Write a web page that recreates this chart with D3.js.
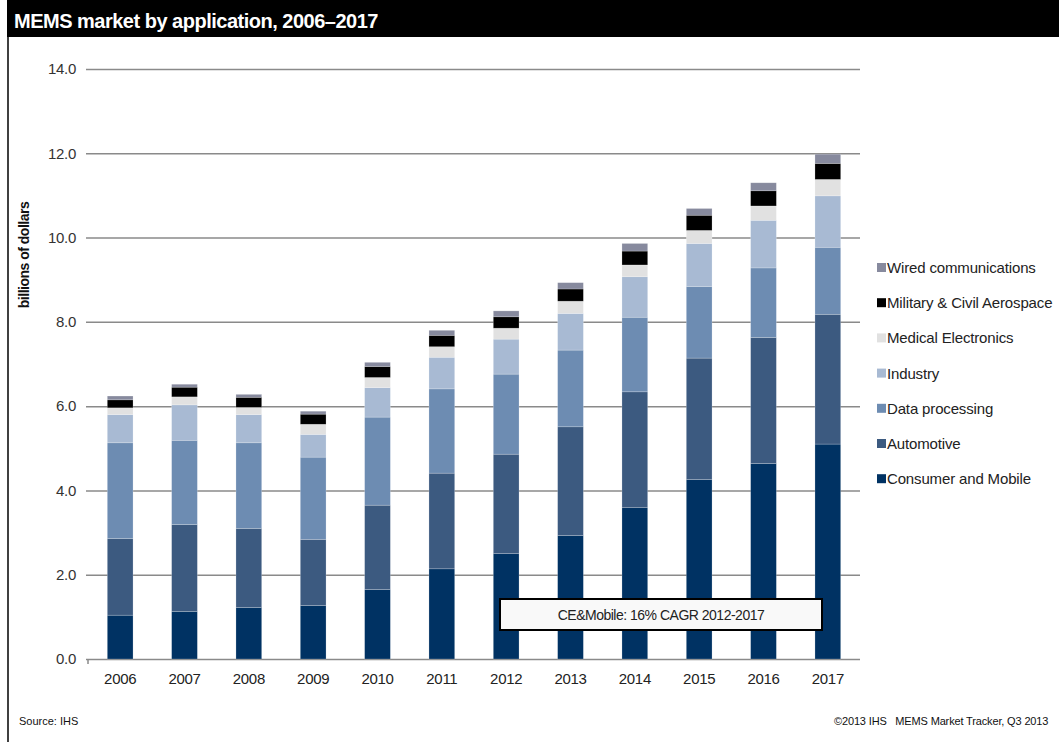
<!DOCTYPE html>
<html>
<head>
<meta charset="utf-8">
<script src="https://cdn.jsdelivr.net/npm/d3@7"></script>
<style>
  body { margin: 0; background: #fff; }
  svg text { font-family: "Liberation Sans", Arial, sans-serif; }
</style>
</head>
<body>
<div id="chart"></div>
<script>
// MEMS market by application, billions of dollars
var years = ["2006","2007","2008","2009","2010","2011","2012","2013","2014","2015","2016","2017"];
var consumer = [1.04,1.13,1.22,1.27,1.65,2.14,2.50,2.93,3.59,4.26,4.64,5.10];
var automotive = [1.82,2.06,1.88,1.57,2.00,2.27,2.36,2.58,2.75,2.88,2.99,3.08];
var dataProc = [2.27,2.00,2.03,1.95,2.09,2.00,1.90,1.82,1.77,1.70,1.65,1.59];
var industry = [0.67,0.84,0.67,0.54,0.70,0.75,0.83,0.87,0.96,1.02,1.13,1.22];
var medical = [0.16,0.19,0.17,0.24,0.24,0.25,0.26,0.29,0.28,0.31,0.34,0.39];
var military = [0.19,0.23,0.24,0.24,0.26,0.27,0.27,0.29,0.33,0.36,0.36,0.38];
var wired = [0.09,0.07,0.07,0.07,0.10,0.12,0.14,0.15,0.18,0.16,0.19,0.22];

var seriesNames = ["Consumer and Mobile","Automotive","Data processing","Industry",
                   "Medical Electronics","Military & Civil Aerospace","Wired communications"];
var seriesValues = [consumer, automotive, dataProc, industry, medical, military, wired];
var colors = ["#003263","#3c5a80","#6d8cb2","#a8bad3","#e1e1e1","#000000","#878a9e"];
var yTicks = [0,2,4,6,8,10,12,14];

var W = 1059, H = 742;
var plotL = 88, plotR = 860, plotT = 69, plotB = 659;

var svg = d3.select("#chart").append("svg")
    .attr("width", W)
    .attr("height", H);

// title bar + frame line
svg.append("rect").attr("x", 7).attr("y", 0).attr("width", W - 7).attr("height", 37).attr("fill", "#000");
svg.append("line").attr("x1", 8).attr("x2", 8).attr("y1", 37).attr("y2", H)
    .attr("stroke", "#000").attr("stroke-width", 1.5);
svg.append("text")
    .attr("x", 14).attr("y", 28)
    .attr("fill", "#fff")
    .style("font-size", "20px").style("font-weight", "bold")
    .style("letter-spacing", "-0.5px")
    .text("MEMS market by application, 2006\u20132017");

// table for stacking
var table = years.map(function(yr, i) {
    var row = {year: yr};
    seriesNames.forEach(function(n, k) { row[n] = seriesValues[k][i]; });
    return row;
});
var stacked = d3.stack().keys(seriesNames)(table);

var x = d3.scaleBand().domain(years).range([plotL, plotR]).paddingInner(0.6).paddingOuter(0.3);
var y = d3.scaleLinear().domain([0, 14]).range([plotB, plotT]);

// gridlines + y labels
var yAxis = svg.append("g")
    .attr("transform", "translate(" + plotL + ",0)")
    .call(d3.axisLeft(y).tickValues(yTicks).tickSize(-(plotR - plotL)).tickPadding(12)
        .tickFormat(d3.format(".1f")));
yAxis.select(".domain").remove();
yAxis.selectAll("line").attr("stroke", "#8a8a8a").attr("stroke-width", 1.5).attr("x1", -2);
yAxis.selectAll("text")
    .attr("fill", "#333")
    .style("font-size", "15px")
    .style("letter-spacing", "-0.3px");

// small hook at axis origin
svg.append("line").attr("x1", plotL).attr("x2", plotL).attr("y1", plotB).attr("y2", plotB + 5)
    .attr("stroke", "#8a8a8a").attr("stroke-width", 1.5);

// bars
var groups = svg.selectAll("g.series")
    .data(stacked)
    .enter().append("g")
    .attr("class", "series")
    .attr("fill", function(d, i) { return colors[i]; });

groups.selectAll("rect")
    .data(function(d) { return d; })
    .enter().append("rect")
    .attr("x", function(d) { return x(d.data.year); })
    .attr("y", function(d) { return y(d[1]); })
    .attr("width", x.bandwidth())
    .attr("height", function(d) { return y(d[0]) - y(d[1]); })
    .attr("stroke", "#fff")
    .attr("stroke-opacity", 0.35)
    .attr("stroke-width", 0.6);

// x labels
var xAxis = svg.append("g")
    .attr("transform", "translate(0," + plotB + ")")
    .call(d3.axisBottom(x).tickSize(0).tickPadding(14));
xAxis.select(".domain").remove();
xAxis.selectAll("text")
    .attr("fill", "#222")
    .style("font-size", "15px")
    .style("letter-spacing", "-0.3px");

// y title
svg.append("text")
    .attr("transform", "translate(29,255) rotate(-90)")
    .attr("text-anchor", "middle")
    .style("font-size", "14px").style("font-weight", "bold")
    .style("letter-spacing", "-0.5px")
    .attr("fill", "#111")
    .text("billions of dollars");

// legend (top item = last series)
var legend = svg.selectAll("g.legend")
    .data(seriesNames.slice().reverse())
    .enter().append("g")
    .attr("class", "legend")
    .attr("transform", function(d, i) { return "translate(877," + (268 + i * 35.2) + ")"; });
legend.append("rect")
    .attr("x", 0).attr("y", -5).attr("width", 9).attr("height", 9)
    .attr("fill", function(d) { return colors[seriesNames.indexOf(d)]; });
legend.append("text")
    .attr("x", 10).attr("y", 5)
    .attr("fill", "#222")
    .style("font-size", "15px")
    .style("letter-spacing", "-0.15px")
    .text(function(d) { return d; });

// annotation box
svg.append("rect")
    .attr("x", 500).attr("y", 599).attr("width", 322).attr("height", 31)
    .attr("fill", "#f9f9f9").attr("stroke", "#000").attr("stroke-width", 2);
svg.append("text")
    .attr("x", 661).attr("y", 620)
    .attr("text-anchor", "middle")
    .attr("fill", "#222")
    .style("font-size", "14px").style("letter-spacing", "-0.5px")
    .text("CE&Mobile: 16% CAGR 2012-2017");

// footer
svg.append("text")
    .attr("x", 19).attr("y", 725)
    .attr("fill", "#111")
    .style("font-size", "11px")
    .text("Source: IHS");
svg.append("text")
    .attr("x", 834).attr("y", 725)
    .attr("fill", "#111")
    .style("font-size", "11px")
    .style("letter-spacing", "-0.15px")
    .attr("xml:space", "preserve")
    .text("\u00a92013 IHS   MEMS Market Tracker, Q3 2013");
</script>
</body>
</html>
